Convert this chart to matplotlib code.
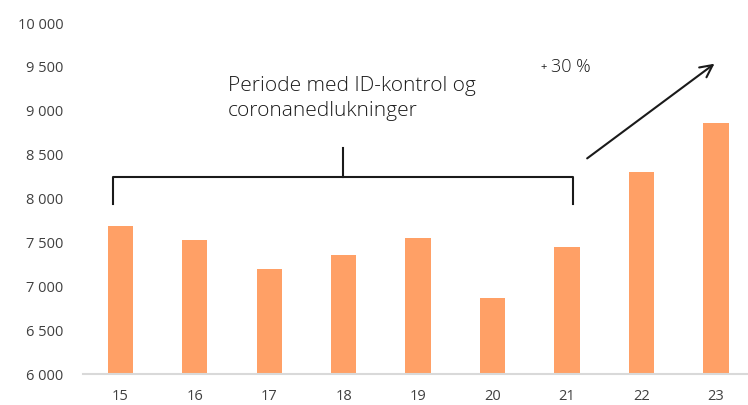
import matplotlib
matplotlib.use("Agg")
import matplotlib.pyplot as plt

years = ["15", "16", "17", "18", "19", "20", "21", "22", "23"]
values = [7690, 7525, 7200, 7355, 7550, 6865, 7445, 8300, 8860]
yticks = [6000, 6500, 7000, 7500, 8000, 8500, 9000, 9500, 10000]
ytick_labels = ["6 000", "6 500", "7 000", "7 500", "8 000", "8 500", "9 000", "9 500", "10 000"]

BAR_COLOR = "#FFA066"
TEXT_COLOR = "#404040"

plt.rcParams["font.family"] = ["Open Sans", "DejaVu Sans"]

fig = plt.figure(figsize=(7.48, 4.05), dpi=100)
ax = fig.add_axes([0.111, 0.0765, 0.889, 0.8665])

x = list(range(len(years)))
ax.bar(x, values, width=0.34, color=BAR_COLOR, zorder=2)

ax.set_xlim(-0.5, 8.43)
ax.set_ylim(6000, 10000)
ax.set_xticks(x)
ax.set_xticklabels(years)
ax.set_yticks(yticks)
ax.set_yticklabels(ytick_labels)
ax.tick_params(axis="both", length=0, labelsize=10.5, colors=TEXT_COLOR)
ax.tick_params(axis="y", pad=14)
ax.tick_params(axis="x", pad=11)

for s in ["top", "right", "left"]:
    ax.spines[s].set_visible(False)
ax.spines["bottom"].set_color("#d9d9d9")
ax.spines["bottom"].set_linewidth(1.5)

# bracket over the ID-control / corona years
bx0, bx1, bxm = -0.094, 6.08, 2.99
ax.plot([bx0, bx0, bx1, bx1], [7937, 8245, 8245, 7937], color="#1a1a1a", lw=1.5, clip_on=False)
ax.plot([bxm, bxm], [8245, 8576], color="#1a1a1a", lw=1.5, clip_on=False)
ax.text(1.45, 9140, "Periode med ID-kontrol og\ncoronanedlukninger", fontsize=15,
        fontweight="light", color="#1a1a1a", ha="left", va="center", linespacing=1.3)

# growth arrow
ax.annotate("", xy=(8.01, 9556), xytext=(6.24, 8439),
            arrowprops=dict(arrowstyle="->", color="#1a1a1a", lw=1.5, mutation_scale=22),
            annotation_clip=False)
ax.text(5.64, 9495, "+", fontsize=8, color="#1a1a1a", ha="left", va="center")
ax.text(5.78, 9495, "30 %", fontsize=13, fontweight="light", color="#1a1a1a",
        ha="left", va="center")

fig.savefig("out.png", dpi=100)
